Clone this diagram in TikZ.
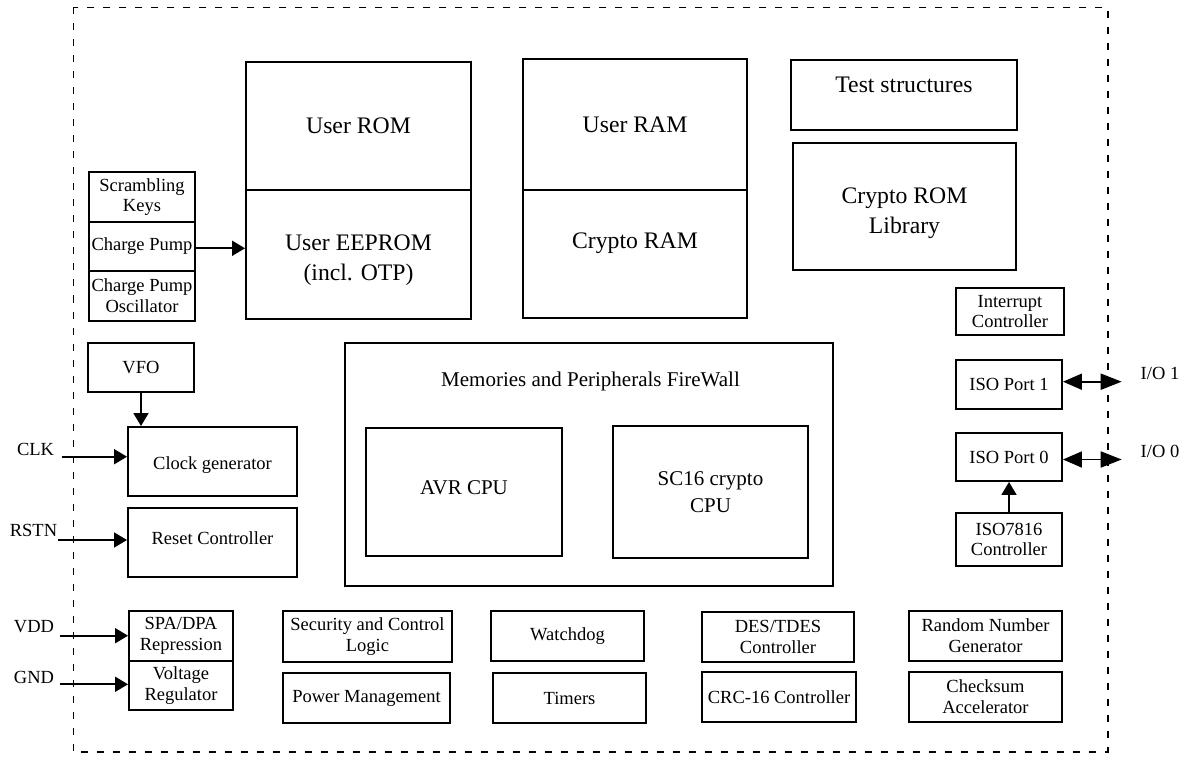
\documentclass[tikz,border=0pt]{standalone}
\usepackage{fontspec}
\setmainfont{Liberation Serif}
\usetikzlibrary{arrows.meta}
\tikzset{
  box/.style={draw, line width=1.9pt, rectangle, inner sep=0pt, align=center,
    font=\fontsize{18.5}{20.7}\selectfont},
  bigtxt/.style={font=\fontsize{23.7}{30}\selectfont},
  midtxt/.style={font=\fontsize{21}{26.7}\selectfont},
  smalltxt/.style={inner sep=0pt, align=center, font=\fontsize{18.5}{20.7}\selectfont},
  conn/.style={line width=1.8pt, -{Triangle[length=13pt,width=15pt]}},
  bidir/.style={line width=1.8pt, {Triangle[length=19pt,width=16pt]}-{Triangle[length=21pt,width=16pt]}},
  border/.style={line width=1.9pt, dash pattern=on 7pt off 9pt}
}
\begin{document}
\begin{tikzpicture}[x=1pt,y=-1pt]
\useasboundingbox (0,0) rectangle (1192,762);
\draw[border] (73.5,7.5) rectangle (1107.7,751.7);

% left memory-support column
\node[box, minimum width=106pt, minimum height=50pt] (skeys) at (142,197) {Scrambling\\Keys};
\node[box, minimum width=106pt, minimum height=49pt] (cpump) at (142,246.5) {Charge Pump};
\node[box, minimum width=106pt, minimum height=50pt] (cposc) at (142,296) {Charge Pump\\Oscillator};

% memories
\node[box, bigtxt, minimum width=225pt, minimum height=128pt] (urom) at (358.5,126) {User ROM};
\node[box, minimum width=225pt, minimum height=129pt] (ueep) at (358.5,254.5) {};
\node[bigtxt, inner sep=0pt, align=center] (ueeptxt) at (358.5,260) {User EEPROM\\(incl. OTP)};
\node[box, bigtxt, minimum width=224pt, minimum height=131pt] (uram) at (635,124.5) {User RAM};
\node[box, minimum width=224pt, minimum height=128pt] (cram) at (635,254) {};
\node[bigtxt, inner sep=0pt] (cramtxt) at (635,243) {Crypto RAM};
\node[box, minimum width=226pt, minimum height=70pt] (test) at (904,95) {};
\node[bigtxt, inner sep=0pt] (testtxt) at (904,85) {Test structures};
\node[box, minimum width=223pt, minimum height=127pt] (crom) at (904.5,206.5) {};
\node[bigtxt, inner sep=0pt, align=center] (cromtxt) at (904.5,213) {Crypto ROM\\Library};

% right column
\node[box, minimum width=108pt, minimum height=47pt] (intc) at (1010,311.5) {Interrupt\\Controller};
\node[box, minimum width=106pt, minimum height=49pt] (iso1) at (1009,384.5) {ISO Port 1};
\node[box, minimum width=106pt, minimum height=48pt] (iso0) at (1009,457) {ISO Port 0};
\node[box, minimum width=106pt, minimum height=53pt] (iso7816) at (1009,539.5) {ISO7816\\Controller};

% clocking / reset
\node[box, minimum width=106pt, minimum height=49pt] (vfo) at (141,367.5) {VFO};
\node[box, minimum width=169pt, minimum height=69pt] (clkgen) at (212.5,461.5) {};
\node[smalltxt] (clkgentxt) at (212.5,465.5) {Clock generator};
\node[box, minimum width=169pt, minimum height=69pt] (rst) at (212.5,542.5) {};
\node[smalltxt] (rsttxt) at (212.5,538.5) {Reset Controller};

% power
\node[box, minimum width=104pt, minimum height=50pt] (spa) at (181,636) {SPA/DPA\\Repression};
\node[box, minimum width=104pt, minimum height=49pt] (vreg) at (181,685.5) {Voltage\\Regulator};

% bottom row
\node[box, minimum width=169pt, minimum height=51pt] (sec) at (367.5,636.5) {Security and Control\\Logic};
\node[box, minimum width=167pt, minimum height=50pt] (pwr) at (366.5,698) {Power Management};
\node[box, minimum width=153pt, minimum height=50pt] (wdog) at (567.5,636) {Watchdog};
\node[box, minimum width=153pt, minimum height=50pt] (timers) at (569.5,698) {Timers};
\node[box, minimum width=152pt, minimum height=50pt] (des) at (778,637) {DES/TDES\\Controller};
\node[box, minimum width=154pt, minimum height=50pt] (crc) at (779,697) {CRC-16 Controller};
\node[box, minimum width=153pt, minimum height=50pt] (rng) at (985.5,636) {Random Number\\Generator};
\node[box, minimum width=153pt, minimum height=50pt] (chk) at (985.5,697) {Checksum\\Accelerator};

% firewall and CPUs
\node[box, minimum width=488pt, minimum height=243pt] (fw) at (589,464.5) {};
\node[midtxt, inner sep=0pt] (fwtxt) at (590.5,381) {Memories and Peripherals FireWall};
\node[box, midtxt, minimum width=196pt, minimum height=128pt] (avr) at (464,492) {};
\node[midtxt, inner sep=0pt] (avrtxt) at (464,488) {AVR CPU};
\node[box, midtxt, minimum width=195pt, minimum height=132pt] (sc16) at (710.5,492) {SC16 crypto\\CPU};

% external signal labels
\node[smalltxt] (lclk) at (35.5,449) {CLK};
\node[smalltxt] (lrstn) at (33.5,530) {RSTN};
\node[smalltxt] (lvdd) at (34,627) {VDD};
\node[smalltxt] (lgnd) at (34,677) {GND};
\node[smalltxt] (lio1) at (1160,373) {I/O 1};
\node[smalltxt] (lio0) at (1160,451.5) {I/O 0};

\coordinate (clkin) at (61.7,456.7);
\coordinate (rstin) at (58.3,540);
\coordinate (vddin) at (60,635.7);
\coordinate (gndin) at (60,684.3);
\coordinate (io1) at (1121.7,381.7);
\coordinate (io0) at (1121.7,459.5);

% connectors
\draw[conn] (cpump.east |- 0,248.3) -- (ueep.west |- 0,248.3);
\draw[conn] (vfo.south) -- (vfo.south |- clkgen.north);
\draw[conn] (clkin) -- (clkin -| clkgen.west);
\draw[conn] (rstin) -- (rstin -| rst.west);
\draw[conn] (vddin) -- (vddin -| spa.west);
\draw[conn] (gndin) -- (gndin -| vreg.west);
\draw[conn] (iso7816.north) -- (iso0.south);
\draw[bidir] (io1 -| iso1.east) -- (io1);
\draw[bidir] (io0 -| iso0.east) -- (io0);
\end{tikzpicture}
\end{document}
